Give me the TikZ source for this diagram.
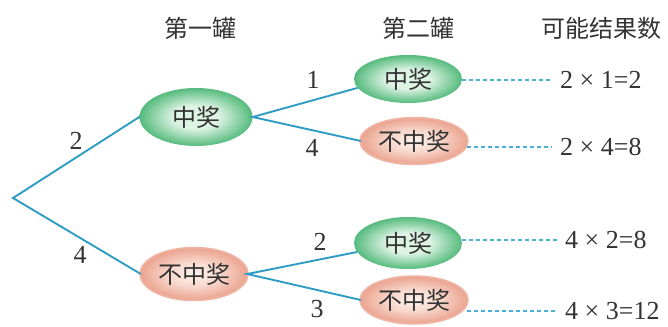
\documentclass[tikz,border=0pt]{standalone}
\usepackage{fontspec}
\setmainfont{Liberation Serif}
\newfontfamily\cjk{Noto Sans CJK SC}
\usetikzlibrary{shapes.geometric}
\definecolor{gd}{HTML}{0A7A3A}
\definecolor{gm}{HTML}{28A85A}
\definecolor{gc}{HTML}{DDF3E4}
\definecolor{rd}{HTML}{C8503A}
\definecolor{rm}{HTML}{E58A72}
\definecolor{rl}{HTML}{F8D8CC}
\definecolor{rc}{HTML}{FFF3EE}
\definecolor{rhalo}{HTML}{F0B4A4}
\definecolor{lineblue}{HTML}{2F9CC4}
\definecolor{dashblue}{HTML}{4BB0D8}
\definecolor{txt}{HTML}{333333}
\pgfdeclareradialshading{greenball}{\pgfpoint{0bp}{0bp}}{color(0bp)=(gc); color(10bp)=(gc); color(30bp)=(gm); color(50bp)=(gd)}
\pgfdeclareradialshading{redball}{\pgfpoint{0bp}{0bp}}{color(0bp)=(rc); color(12bp)=(rl); color(32bp)=(rm); color(45bp)=(rd); color(50bp)=(rd)}
\begin{document}
\begin{tikzpicture}[x=1pt,y=-1pt,
  ball/.style={ellipse, inner sep=0pt, font=\cjk\fontsize{24}{24}\selectfont, text=txt},
  win/.style={ball, shade, shading=greenball},
  lose/.style={ball, shade, shading=redball, preaction={draw=rhalo, line width=3.5pt}},
  branch/.style={draw=lineblue, line width=1.9pt},
  link/.style={draw=dashblue, line width=1.3pt, dash pattern=on 4pt off 3pt, shorten >=7pt},
  head/.style={font=\cjk\fontsize{24}{24}\selectfont, text=txt},
  num/.style={font=\fontsize{26}{26}\selectfont, text=txt, inner sep=1pt},
  res/.style={num, anchor=west}]
\useasboundingbox (0,0) rectangle (668,326);
\fill[white] (0,0) rectangle (668,326);
% headers
\node[head] (h1) at (200,28) {第一罐};
\node[head] (h2) at (418,28) {第二罐};
\node[head] (h3) at (601,28) {可能结果数};
% nodes
\coordinate (root) at (13,198);
\node[win, minimum width=113pt, minimum height=58pt] (A) at (196,117) {中奖};
\node[lose, minimum width=106pt, minimum height=51pt] (B) at (194,274) {不中奖};
\node[win, minimum width=108pt, minimum height=48pt] (C) at (408,79) {中奖};
\node[lose, minimum width=106pt, minimum height=45pt] (D) at (414,141) {不中奖};
\node[win, minimum width=108pt, minimum height=52pt] (E) at (408,243) {中奖};
\node[lose, minimum width=106pt, minimum height=46pt] (F) at (414,300) {不中奖};
% branches
\draw[branch] (A.west) -- (root) -- (B.west);
\draw[branch] (C.190) -- (A.east) -- (D.west);
\draw[branch] (E.190) -- (B.east) -- (F.west);
% labels
\node[num] (l1) at (76,141) {2};
\node[num] (l2) at (80,255) {4};
\node[num] (l3) at (313,80) {1};
\node[num] (l4) at (312,148) {4};
\node[num] (l5) at (320,242) {2};
\node[num] (l6) at (317,309) {3};
% results
\node[res] (r1) at (559,80) {2 × 1=2};
\node[res] (r2) at (559,147) {2 × 4=8};
\node[res] (r3) at (564,240) {4 × 2=8};
\node[res] (r4) at (564,311) {4 × 3=12};
\draw[link] (C.east |- r1.west) -- (r1.west);
\draw[link] (D.east |- r2.west) -- (r2.west);
\draw[link] (E.east |- r3.west) -- (r3.west);
\draw[link] (F.east |- r4.west) -- (r4.west);
\end{tikzpicture}
\end{document}
